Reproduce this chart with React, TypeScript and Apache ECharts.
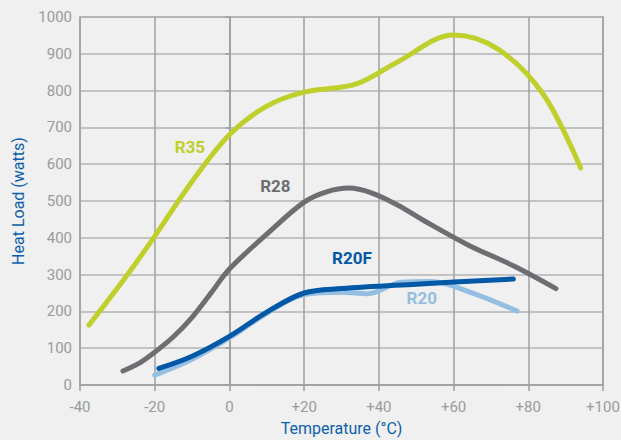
import React, { useEffect, useRef } from "react";
import * as echarts from "echarts";

const xTickLabels: Record<string, string> = {
  "-40": "-40", "-20": "-20", "0": "0", "20": "+20", "40": "+40", "60": "+60", "80": "+80", "100": "+100",
};

const r35X = [-37.6, -28, -20, -10, 0, 10, 20, 34, 45, 60, 72, 84, 94];
const r35Y = [163, 290, 404, 553, 680, 758, 796, 818, 878, 951, 912, 790, 590];

const r28X = [-28.5, -24, -20, -15, -10, -5, 0, 10, 20, 26, 32, 38, 45, 52, 64, 76, 87.4];
const r28Y = [38, 60, 89, 131, 184, 249, 315, 410, 497, 525, 535, 522, 489, 447, 380, 324, 262];

const r20fX = [-18.9, -10, 0, 10, 20, 30, 50, 76];
const r20fY = [45, 78, 132, 198, 250, 262, 274, 288];

const r20X = [-20, -10, 0, 10, 20, 30, 37, 46, 54, 64, 77];
const r20Y = [27, 70, 128, 195, 246, 252, 248, 279, 281, 254, 201];

const labelNames = ["R35", "R28", "R20F", "R20"];
const labelX = [-10.6, 12.3, 32.8, 51.5];
const labelY = [648, 542, 344, 237];

const colors = ["#bfcf2b", "#6d6e71", "#0058a7", "#95bee3"];

const zip = (xs: number[], ys: number[]) => xs.map((x, i) => [x, ys[i]]);

export default function App() {
  const ref = useRef<HTMLDivElement>(null);
  useEffect(() => {
    if (!ref.current) return;
    const chart = echarts.init(ref.current, undefined, { renderer: "svg" });
    const mk = (name: string, xs: number[], ys: number[], color: string, li: number, z: number) => ({
      name,
      type: "line",
      data: zip(xs, ys),
      smooth: 0.35,
      showSymbol: false,
      z,
      lineStyle: { color, width: 5, cap: "round", join: "round" },
      itemStyle: { color },
      markPoint: {
        symbol: "circle",
        symbolSize: 0,
        silent: true,
        data: [{ coord: [labelX[li], labelY[li]] }],
        label: {
          show: true,
          position: "inside",
          formatter: labelNames[li],
          color,
          fontFamily: "Roboto",
          fontWeight: "bold",
          fontSize: 17,
        },
      },
    });
    chart.setOption({
      animation: false,
      backgroundColor: "#eff0ef",
      grid: {
        left: 80, right: 18, top: 17, bottom: 55,
        outerBoundsMode: "none",
        containLabel: false,
        show: true, borderColor: "#a3a3a3", borderWidth: 1.5,
      },
      xAxis: {
        type: "value",
        min: -40, max: 100, interval: 20,
        name: "Temperature (°C)",
        nameLocation: "middle",
        nameGap: 35,
        nameTextStyle: { color: "#0d5fab", fontFamily: "Roboto", fontSize: 16 },
        axisLine: { lineStyle: { color: "#9e9e9e", width: 1.5 } },
        axisTick: { show: true, length: 6, lineStyle: { color: "#9e9e9e", width: 1.5 } },
        axisLabel: {
          color: "#9b9b9b", fontFamily: "Roboto", fontSize: 15, margin: 14,
          formatter: (v: number) => xTickLabels[String(v)] ?? String(v),
        },
        splitLine: { show: true, lineStyle: { color: "#a0a0a0", width: 1.5 } },
      },
      yAxis: {
        type: "value",
        min: 0, max: 1000, interval: 100,
        name: "Heat Load (watts)",
        nameLocation: "middle",
        nameGap: 54,
        nameTextStyle: { color: "#0d5fab", fontFamily: "Roboto", fontSize: 16 },
        axisLine: { show: true, lineStyle: { color: "#9e9e9e", width: 1.5 } },
        axisTick: { show: true, length: 4, lineStyle: { color: "#9e9e9e", width: 1.5 } },
        axisLabel: {
          color: "#9b9b9b", fontFamily: "Roboto", fontSize: 15, margin: 8,
          formatter: (v: number) => String(v),
        },
        splitLine: { show: true, lineStyle: { color: "#b5b5b5", width: 1.5 } },
      },
      series: [
        mk("R35", r35X, r35Y, colors[0], 0, 3),
        mk("R28", r28X, r28Y, colors[1], 1, 3),
        mk("R20", r20X, r20Y, colors[3], 3, 3),
        mk("R20F", r20fX, r20fY, colors[2], 2, 4),
      ],
    });
    return () => chart.dispose();
  }, []);
  return (
    <div
      ref={ref}
      style={{ position: "fixed", left: 0, top: 0, width: 621, height: 440, background: "#eff0ef" }}
    />
  );
}
